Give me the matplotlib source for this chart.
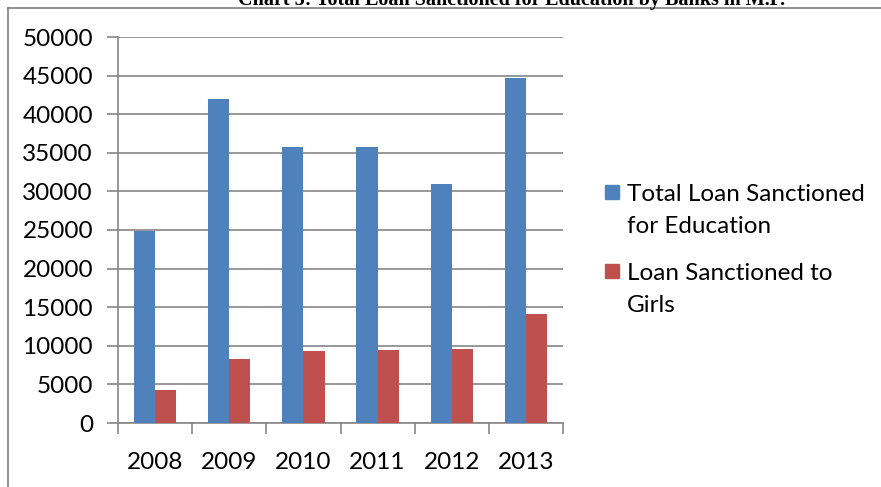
import numpy as np
import matplotlib.pyplot as plt
from matplotlib.lines import Line2D
from matplotlib.patches import Rectangle

years = ['2008', '2009', '2010', '2011', '2012', '2013']
total_loan = [24900, 42000, 35700, 35800, 30900, 44700]
girls_loan = [4300, 8300, 9300, 9500, 9600, 14100]
series_names = ['Total Loan Sanctioned\nfor Education', 'Loan Sanctioned to\nGirls']

blue = '#4f81bd'
red = '#c0504d'
grid_c = '#868686'

plt.rcParams['font.family'] = ['Lato', 'DejaVu Sans']

W, H = 881, 487
fig = plt.figure(figsize=(W / 100, H / 100), dpi=100)
ax = fig.add_axes([118/W, 1 - 423/H, 445/W, 386/H])

x = np.arange(len(years))
w = 0.285
ax.bar(x - w/2, total_loan, w, color=blue, zorder=3)
ax.bar(x + w/2, girls_loan, w, color=red, zorder=3)

ax.set_xlim(-0.5, len(years) - 0.5)
ax.set_ylim(0, 50000)
ax.set_yticks(range(0, 50001, 5000))
ax.yaxis.grid(True, color=grid_c, linewidth=1.2, zorder=0)

# category boundary ticks on x, labels centred
ax.set_xticks(np.arange(-0.5, len(years), 1))
ax.set_xticklabels([])
ax.set_xticks(x, minor=True)
ax.set_xticklabels(years, minor=True)
ax.tick_params(axis='x', which='major', length=8, width=1.2, color=grid_c, direction='out')
ax.tick_params(axis='x', which='minor', length=0, pad=21, labelsize=17.5)
ax.tick_params(axis='y', length=8, width=1.2, color=grid_c, direction='out', pad=10, labelsize=17.5)

for s in ['top', 'right']:
    ax.spines[s].set_visible(False)
for s in ['left', 'bottom']:
    ax.spines[s].set_color(grid_c)
    ax.spines[s].set_linewidth(1.2)

# legend drawn by hand: square sits beside the first line (Excel style)
first_baselines = [201, 280]
for name, col, yb in zip(series_names, [blue, red], first_baselines):
    fig.add_artist(Rectangle((605/W, 1 - (yb - 2)/H), 14/W, 14/H, color=col))
    for i, line in enumerate(name.split('\n')):
        fig.text(627/W, 1 - (yb + 32 * i)/H, line, fontsize=17.5, va='baseline', ha='left')

# outer frame pieces and the clipped title above
fig.add_artist(Line2D([8/W, 8/W], [0, 1 - 8/H], color='#7f7f7f', linewidth=1.2))
fig.add_artist(Line2D([8/W, 1], [1 - 8/H, 1 - 8/H], color='#7f7f7f', linewidth=1.2))
fig.text(512/W, 1 - 5/H, 'Chart 5: Total Loan Sanctioned for Education by Banks in M.P.',
         ha='center', va='baseline', family=['Liberation Serif'], fontweight='bold', fontsize=14.5)

fig.savefig('out.png', dpi=100)
